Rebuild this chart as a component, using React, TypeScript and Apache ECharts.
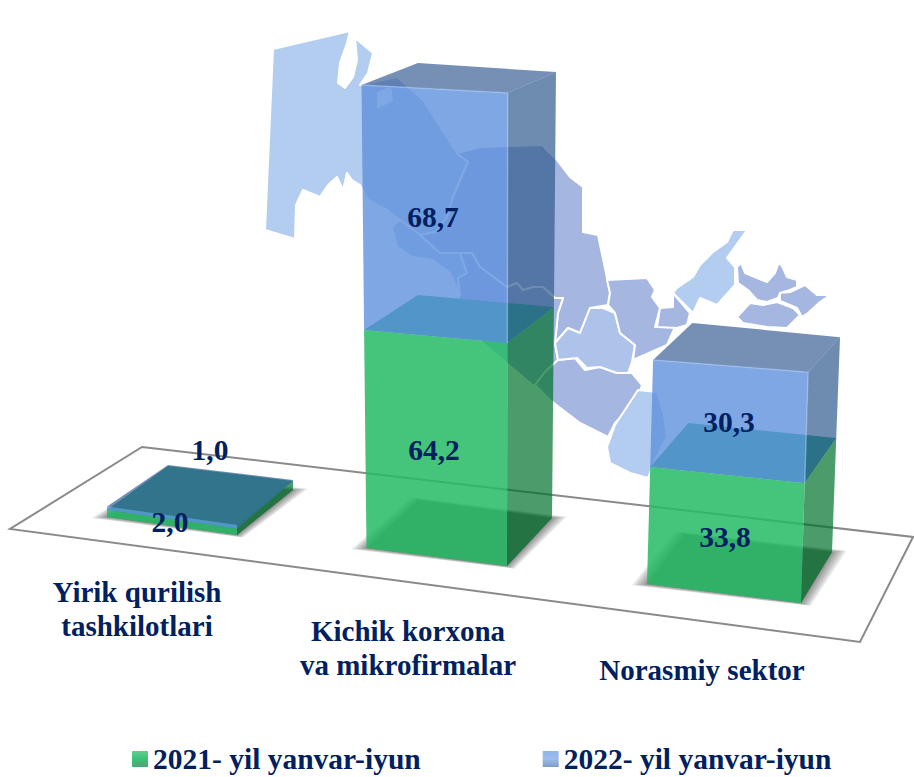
import React, { useEffect, useRef } from "react";
import * as echarts from "echarts";

const CATEGORIES = ["Yirik qurilish\ntashkilotlari", "Kichik korxona\nva mikrofirmalar", "Norasmiy sektor"];
const SERIES_2021 = "2021- yil yanvar-iyun";
const SERIES_2022 = "2022- yil yanvar-iyun";
const VALUES_2021 = [2.0, 64.2, 33.8];
const VALUES_2022 = [1.0, 68.7, 30.3];

const GRID_TOP = 0;
const GRID_HEIGHT = 560;
const AXIS_MAX = 160;
const UNIT = GRID_HEIGHT / AXIS_MAX;
const SERIF = '"Liberation Serif", "Times New Roman", serif';
const NAVY = "#002060";

// Perspective of each bar: offset of each vertical edge from the category's axis position
type Edge = { dx: number; da: number; floor: number; h: number; lean: number };
const BAR_GEOMETRY: { fl: Edge; fr: Edge; br: Edge; bl: Edge }[] = [
  {
    fl: { dx: -54, da: -43, floor: -43, h: 3.5, lean: 0 },
    fr: { dx: 76, da: -25, floor: -25, h: 3.3, lean: 0 },
    br: { dx: 132, da: -77, floor: -70, h: 1, lean: 0 },
    bl: { dx: 7, da: -92, floor: -85, h: 1, lean: 0 },
  },
  {
    fl: { dx: -70.5, da: -1, floor: -12, h: 3.566, lean: -0.0376 },
    fr: { dx: 70, da: 16.6, floor: 6, h: 3.639, lean: 0.005 },
    br: { dx: 115, da: -33.4, floor: -42, h: 3.42, lean: 0.03 },
    bl: { dx: -19, da: -48.2, floor: -60, h: 3.377, lean: 0 },
  },
  {
    fl: { dx: -66, da: 26.3, floor: 24, h: 3.53, lean: 0.095 },
    fr: { dx: 88, da: 46.8, floor: 43, h: 3.66, lean: 0.11 },
    br: { dx: 119, da: -9.4, floor: -8, h: 3.33, lean: 0.125 },
    bl: { dx: -29, da: -25.5, floor: -26, h: 3.3, lean: 0.13 },
  },
];

// Value label offsets from the category's axis position (pixels); [2021, 2022]
const VALUE_LABEL_POS = [
  [[9, -38], [49, -110]],
  [[-3, -110], [-4, -343]],
  [[12, -23], [16, -138]],
];
const CATEGORY_LABEL_POS = [
  [-24, 49],
  [-29, 88],
  [-11, 110],
];

const FACES: Record<string, { front: string; right: string; top: string }> = {
  green: { front: "rgba(36,187,101,0.85)", right: "rgba(0,113,44,0.7)", top: "rgb(30,165,120)" },
  blue: { front: "rgba(95,145,220,0.8)", right: "rgba(49,91,142,0.7)", top: "rgba(60,95,150,0.7)" },
};

// Soft floor shadow: stacked translucent layers, [x scale, y scale]
const SHADOW_LAYERS = [
  [1.16, 1.08],
  [1.135, 1.07],
  [1.11, 1.06],
  [1.085, 1.05],
  [1.06, 1.04],
  [1.04, 1.025],
  [1.02, 1.012],
  [1.0, 1.0],
];

// Decorative background map
const MAP_LIGHT = "#b3cdf0";
const MAP_MID = "#aec3ea";
const MAP_DARK = "#a5b6e0";
const MAP_REGIONS: { fill: string; pts: number[][] }[] = [
  { fill: MAP_LIGHT, pts: [[273,49],[350,31],[347,43],[340,63],[338,83],[345,88],[353,77],[357,60],[355,38],[373,53],[368,73],[360,85],[397,77],[423,100],[457,153],[468,162],[453,197],[447,217],[436,232],[420,235],[400,220],[387,210],[368,200],[360,185],[352,180],[347,173],[343,190],[337,177],[328,185],[320,197],[303,190],[296,205],[295,239],[265,230]] },
  { fill: "#ffffff", pts: [[378,93],[390,88],[392,100],[378,107]] },
  { fill: MAP_LIGHT, pts: [[392,227],[400,220],[420,235],[440,253],[460,253],[467,273],[458,278],[460,295],[450,273],[433,260],[413,257],[397,247]] },
  { fill: MAP_DARK, pts: [[457,153],[480,147],[542,145],[557,160],[570,177],[583,187],[583,232],[598,235],[607,278],[610,293],[608,305],[590,308],[580,333],[568,328],[555,343],[558,313],[563,298],[555,298],[543,287],[533,287],[523,290],[517,283],[507,287],[480,267],[472,253],[460,253],[440,253],[420,235],[436,232],[447,217],[453,197],[468,162]] },
  { fill: MAP_DARK, pts: [[460,253],[472,253],[480,267],[507,287],[517,283],[523,290],[533,287],[543,287],[555,298],[563,298],[558,313],[555,343],[558,360],[545,372],[535,385],[550,400],[483,343],[458,297],[460,295],[458,278],[467,273]] },
  { fill: MAP_DARK, pts: [[558,360],[575,358],[585,370],[600,367],[617,373],[632,373],[642,385],[637,400],[615,423],[608,437],[580,423],[550,400],[535,385],[545,372]] },
  { fill: MAP_MID, pts: [[555,343],[568,328],[580,333],[590,308],[603,308],[615,313],[620,333],[635,345],[632,362],[628,373],[617,373],[600,367],[587,368],[577,358],[558,360]] },
  { fill: MAP_DARK, pts: [[607,280],[647,278],[655,290],[652,297],[660,308],[655,327],[675,327],[667,345],[633,360],[635,345],[620,333],[615,313],[608,305],[610,293]] },
  { fill: MAP_DARK, pts: [[660,308],[673,307],[673,293],[690,313],[687,325],[677,328],[657,327]] },
  { fill: MAP_LIGHT, pts: [[677,288],[693,277],[700,265],[713,252],[727,242],[733,230],[747,230],[727,258],[735,267],[735,285],[717,305],[700,298],[693,313],[673,293]] },
  { fill: MAP_DARK, pts: [[737,267],[741,263],[745,273],[757,278],[767,282],[775,273],[779,262],[783,268],[787,277],[797,280],[797,287],[790,290],[780,293],[778,298],[767,302],[757,300],[748,290],[738,283]] },
  { fill: MAP_DARK, pts: [[780,293],[790,292],[805,285],[817,295],[830,295],[820,302],[808,313],[802,317],[797,308],[780,301]] },
  { fill: MAP_DARK, pts: [[737,317],[750,303],[763,305],[777,302],[793,308],[800,315],[787,328],[767,327],[743,323]] },
  { fill: MAP_LIGHT, pts: [[638,390],[657,392],[664,415],[667,437],[655,460],[648,478],[630,473],[610,463],[607,447],[615,425]] },
];
const FLOOR_POINTS = [[142,447],[913,537],[860,642],[10,529]];

const fmt = (v: number) => v.toFixed(1).replace(".", ",");

function barRenderer(kind: "green" | "blue") {
  return (_params: any, api: any) => {
    const i = api.value(0);
    const v = api.value(1);
    const base = api.value(2);
    const g = BAR_GEOMETRY[i];
    const zero = api.coord([i, 0]);
    const pt = (e: Edge, val: number) => {
      const dy = zero[1] - api.coord([i, val])[1];
      return [
        zero[0] + e.dx + (dy * e.lean) / UNIT,
        zero[1] + (val === 0 ? e.floor : e.da) - (dy * e.h) / UNIT,
      ];
    };
    const top = base + v;
    const c = FACES[kind];
    const children: any[] = [];
    if (kind === "green") {
      const foot = [pt(g.fl, 0), pt(g.fr, 0), pt(g.br, 0), pt(g.bl, 0)];
      const cx = foot.reduce((s, p) => s + p[0], 0) / 4;
      const cy = foot.reduce((s, p) => s + p[1], 0) / 4;
      SHADOW_LAYERS.forEach(([kx, ky]) => {
        children.push({
          type: "polygon",
          shape: { points: foot.map((p) => [cx + (p[0] - cx) * kx, cy + (p[1] - cy) * ky]) },
          style: { fill: "rgba(70,70,70,0.11)" },
        });
      });
      children.push({
        type: "polygon",
        shape: { points: foot },
        style: { fill: "rgba(70,70,70,0.3)" },
      });
    }
    children.push({
      type: "polygon",
      shape: { points: [pt(g.fl, top), pt(g.fr, top), pt(g.br, top), pt(g.bl, top)] },
      style: { fill: c.top },
    });
    children.push({
      type: "polygon",
      shape: { points: [pt(g.fr, base), pt(g.br, base), pt(g.br, top), pt(g.fr, top)] },
      style: { fill: c.right },
    });
    children.push({
      type: "polygon",
      shape: { points: [pt(g.fl, base), pt(g.fr, base), pt(g.fr, top), pt(g.fl, top)] },
      style: { fill: c.front },
    });
    if (kind === "blue" && v > 5) {
      children.push({
        type: "polyline",
        shape: { points: [pt(g.fl, top), pt(g.fr, top), pt(g.fr, base)] },
        style: { fill: "none", stroke: "rgba(170,200,245,0.55)", lineWidth: 1.5 },
      });
    }
    return { type: "group", children };
  };
}

function labelRenderer(_params: any, api: any) {
  const i = api.value(0);
  const zero = api.coord([i, 0]);
  const font = `bold 29.5px ${SERIF}`;
  const text = (s: string, p: number[], f = font, lineHeight = 34) => ({
    type: "text",
    style: {
      text: s,
      x: zero[0] + p[0],
      y: zero[1] + p[1],
      fill: NAVY,
      font: f,
      lineHeight,
      align: "center",
      verticalAlign: "middle",
    },
  });
  return {
    type: "group",
    children: [
      text(fmt(api.value(1)), VALUE_LABEL_POS[i][0]),
      text(fmt(api.value(2)), VALUE_LABEL_POS[i][1]),
      text(CATEGORIES[i], CATEGORY_LABEL_POS[i], `bold 29px ${SERIF}`),
    ],
  };
}

export default function App() {
  const ref = useRef<HTMLDivElement>(null);
  useEffect(() => {
    document.body.style.margin = "0";
    document.body.style.background = "#ffffff";
    const chart = echarts.init(ref.current!, undefined, { renderer: "svg" });
    const graphicElements: any[] = [
      ...MAP_REGIONS.map((r) => ({
        type: "polygon",
        silent: true,
        shape: { points: r.pts },
        style: { fill: r.fill, stroke: "#ffffff", lineWidth: 2, lineJoin: "round" },
      })),
      { type: "circle", silent: true, shape: { cx: 693, cy: 271, r: 4 }, style: { fill: "#ffffff" } },
      {
        type: "polygon",
        silent: true,
        shape: { points: FLOOR_POINTS },
        style: { fill: "transparent", stroke: "#8a8a8a", lineWidth: 2 },
      },
    ];
    chart.setOption({
      animation: false,
      backgroundColor: "#ffffff",
      grid: { left: 23, width: 828, top: GRID_TOP, height: GRID_HEIGHT, containLabel: false },
      xAxis: { type: "category", data: CATEGORIES, show: false },
      yAxis: { type: "value", min: 0, max: AXIS_MAX, show: false },
      graphic: { elements: graphicElements },
      legend: {
        data: [
          {
            name: SERIES_2021,
            itemStyle: {
              color: new echarts.graphic.LinearGradient(0, 0, 0, 1, [
                { offset: 0, color: "#5fd08f" },
                { offset: 0.5, color: "#3fc07a" },
                { offset: 1, color: "#49a873" },
              ]),
            },
          },
          {
            name: SERIES_2022,
            itemStyle: {
              color: new echarts.graphic.LinearGradient(0, 0, 0, 1, [
                { offset: 0, color: "#8fb6ea" },
                { offset: 0.5, color: "#9dbdeb" },
                { offset: 1, color: "#7f9cc4" },
              ]),
            },
          },
        ],
        left: 132,
        top: 744,
        padding: 0,
        icon: "rect",
        itemWidth: 16,
        itemHeight: 16,
        itemGap: 122,
        textStyle: { fontFamily: SERIF, fontWeight: "bold", fontSize: 29.5, color: NAVY },
      },
      series: [
        {
          type: "custom",
          name: SERIES_2021,
          itemStyle: { color: "#45c57c" },
          renderItem: barRenderer("green"),
          encode: { x: 0, y: 1 },
          clip: false,
          z: 2,
          silent: true,
          data: VALUES_2021.map((v, i) => [i, v, 0]),
        },
        {
          type: "custom",
          name: SERIES_2022,
          itemStyle: { color: "#8fb0e0" },
          renderItem: barRenderer("blue"),
          encode: { x: 0, y: 1 },
          clip: false,
          z: 3,
          silent: true,
          data: VALUES_2022.map((v, i) => [i, v, VALUES_2021[i]]),
        },
        {
          type: "custom",
          name: "labels",
          renderItem: labelRenderer,
          encode: { x: 0, y: 1 },
          clip: false,
          z: 5,
          silent: true,
          data: VALUES_2021.map((v, i) => [i, v, VALUES_2022[i]]),
        },
      ],
    });
    return () => chart.dispose();
  }, []);
  return <div ref={ref} style={{ width: 914, height: 777 }} />;
}
